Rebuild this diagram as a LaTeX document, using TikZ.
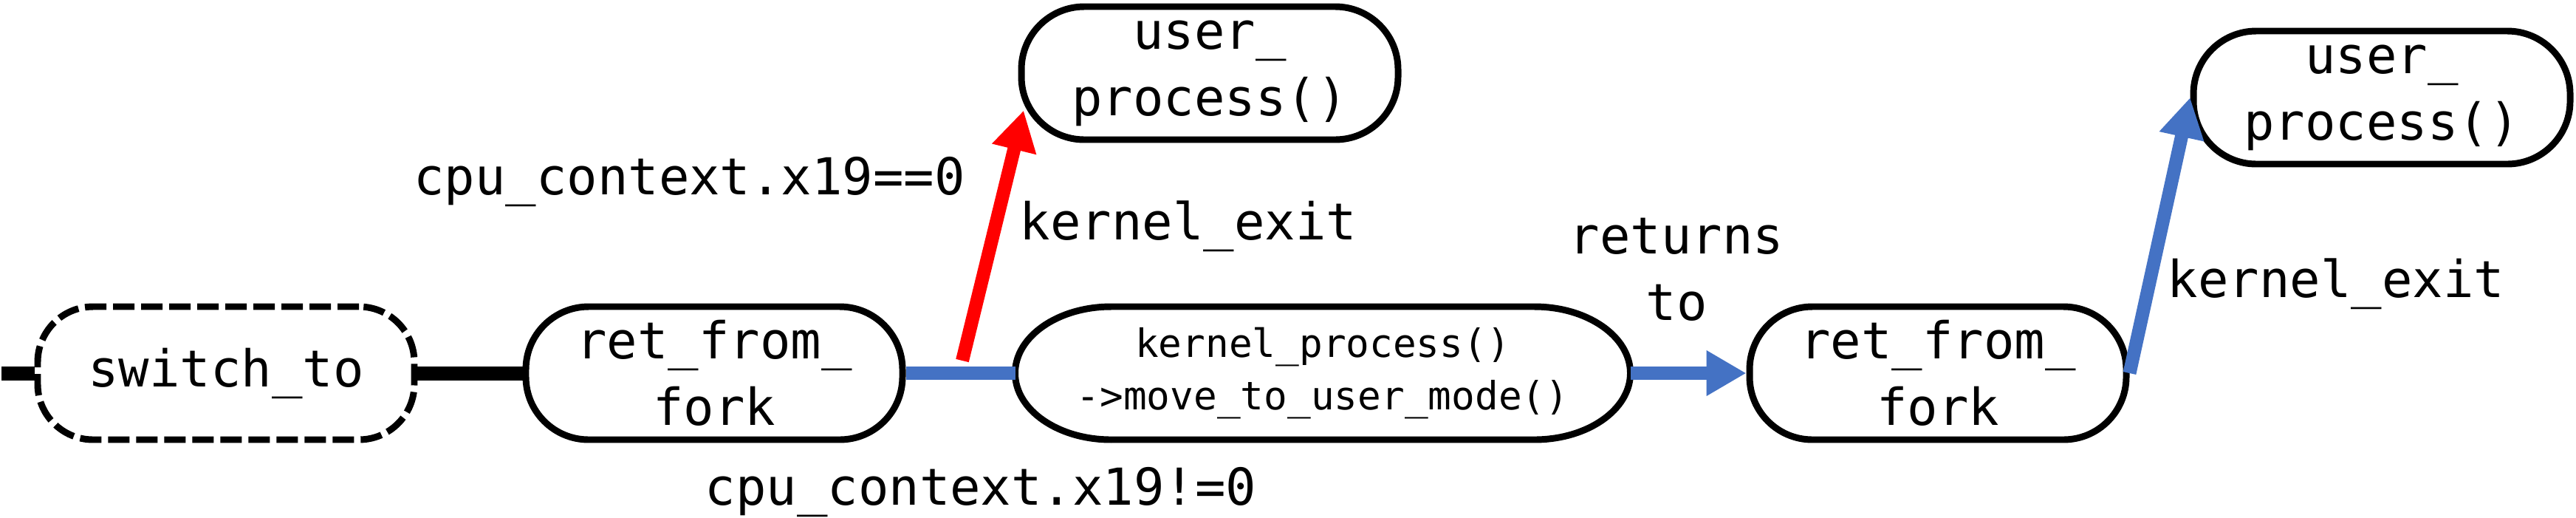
\documentclass[tikz,border=0pt]{standalone}
\usepackage{fontspec}
\newfontfamily\codefont{DejaVu Sans Mono}
\usetikzlibrary{arrows.meta, calc, positioning}
\definecolor{color_text}{HTML}{000000}
\definecolor{color_blue}{HTML}{4472C4}
\definecolor{color_red}{HTML}{FF0000}
\tikzset{
  flow_box/.style={draw=color_text, line width=2.55pt, rounded corners=0.85cm, fill=white, minimum width=5.1cm, minimum height=1.8cm, inner sep=0pt, align=center, font=\codefont\fontsize{19.6}{25.6}\selectfont},
  flow_box_dashed/.style={flow_box, rounded corners=0.75cm, dash pattern=on 0.29cm off 0.09cm},
  flow_outline/.style={draw=color_text, line width=2.55pt},
  flow_label/.style={font=\codefont\fontsize{19.6}{25.6}\selectfont, text=color_text, inner sep=0pt, anchor=base},
  call_line/.style={draw=color_text, line width=0.19cm},
  blue_line/.style={draw=color_blue, line width=0.18cm},
  blue_arrow/.style={blue_line, -{Triangle[length=5.4mm, width=5.8mm]}},
  red_arrow/.style={draw=color_red, line width=0.18cm, -{Triangle[length=5.4mm, width=5.8mm]}},
}

\begin{document}
\begin{tikzpicture}
    \useasboundingbox (0,0) rectangle (34.88,7.00);
    % call chain
    \node[flow_box_dashed] (switch) at (3.06,1.95) {switch\_to};
    \node[flow_box] (fork_a) at (9.67,1.95) {ret\_from\_\\fork};
    \node[flow_box, draw=none, fill=none, outer sep=0pt, minimum width=8.33cm, font=\codefont\fontsize{15}{20.2}\selectfont]
      (kernel) at (17.91,1.95) {kernel\_process()\\->move\_to\_user\_mode()};
    \node[flow_box] (fork_b) at (26.24,1.95) {ret\_from\_\\fork};
    \node[flow_box] (user_a) at (16.38,6.01) {user\_\\process()};
    \node[flow_box] (user_b) at (32.25,5.68) {user\_\\process()};
    \draw[flow_outline] ([xshift=1.3cm]kernel.north west) -- ([xshift=-1.3cm]kernel.north east)
      arc[start angle=90, end angle=-90, x radius=1.3cm, y radius=0.9cm]
      -- ([xshift=1.3cm]kernel.south west)
      arc[start angle=270, end angle=90, x radius=1.3cm, y radius=0.9cm] -- cycle;
    \coordinate (stub) at (0.02,1.95);
    \coordinate (branch) at (13.03,2.12);
    \draw[call_line] (stub) -- (switch.west);
    \draw[call_line] (switch.east) -- (fork_a.west);
    \draw[blue_line] (fork_a.east) -- (kernel.west);
    \draw[red_arrow] (branch) -- ([xshift=0.75mm]user_a.191);
    \draw[blue_arrow] (kernel.east) -- (fork_b.west);
    \draw[blue_arrow] (fork_b.east) -- (user_b.west);
    % labels
    \node[flow_label] (cond_zero) at (9.335,4.37) {cpu\_context.x19==0};
    \node[flow_label] (exit_a) at (16.09,3.76) {kernel\_exit};
    \node[flow_label] (cond_nonzero) at (13.28,0.17) {cpu\_context.x19!=0};
    \node[flow_label, align=center] (returns) at (22.70,2.67) {returns\\to};
    \node[flow_label] (exit_b) at (31.63,2.98) {kernel\_exit};
\end{tikzpicture}
\end{document}
